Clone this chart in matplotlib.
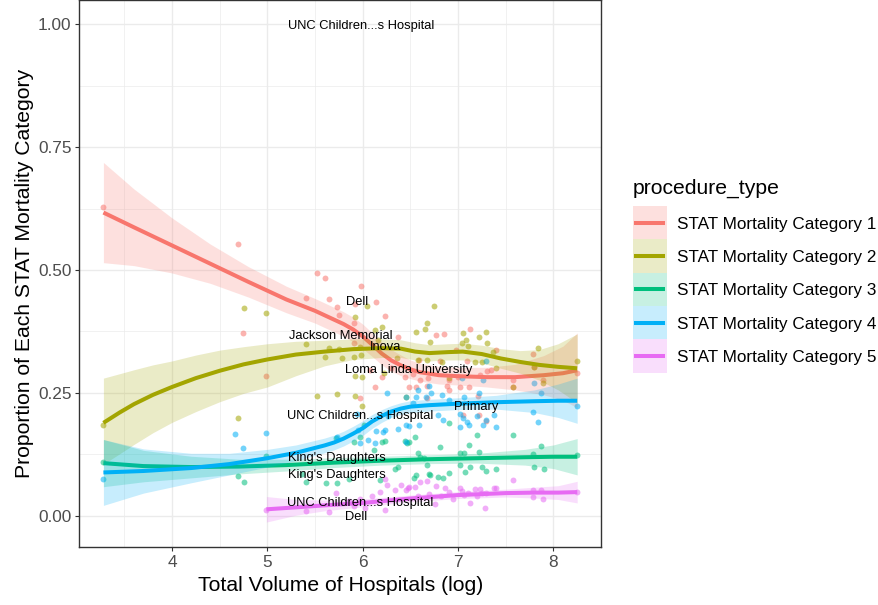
import matplotlib
matplotlib.use("Agg")
import matplotlib.pyplot as plt
from matplotlib.patches import Rectangle
from matplotlib.lines import Line2D

plt.rcParams['font.family'] = ['Liberation Sans', 'DejaVu Sans']

# ---- data -------------------------------------------------------------
categories = ["STAT Mortality Category 1", "STAT Mortality Category 2",
              "STAT Mortality Category 3", "STAT Mortality Category 4",
              "STAT Mortality Category 5"]
colors = ["#F8766D", "#A3A500", "#00BF7D", "#00B0F6", "#E76BF3"]

cat1_x = [3.28, 4.69, 4.74, 4.99, 5.40, 5.52, 5.60, 5.65, 5.73, 5.75, 5.91, 5.92, 5.98, 5.91, 5.97,
          6.08, 6.13, 6.14, 6.20, 6.23, 6.30, 6.37, 6.44, 6.49, 6.53, 6.56, 6.59, 6.60, 6.67, 6.67,
          6.69, 6.77, 6.81, 6.85, 6.88, 6.91, 6.91, 6.98, 7.00, 7.02, 7.05, 7.09, 7.12, 7.13, 7.21,
          7.22, 7.23, 7.29, 7.30, 7.35, 7.40, 7.58, 7.58, 7.79, 7.80, 7.89, 8.25]
cat1_y = [0.628, 0.554, 0.371, 0.284, 0.444, 0.493, 0.483, 0.442, 0.425, 0.408, 0.393, 0.431, 0.467, 0.352, 0.239,
          0.297, 0.261, 0.434, 0.283, 0.406, 0.300, 0.364, 0.282, 0.262, 0.288, 0.261, 0.316, 0.276, 0.264, 0.239,
          0.280, 0.368, 0.314, 0.369, 0.263, 0.276, 0.256, 0.337, 0.282, 0.261, 0.205, 0.314, 0.261, 0.379, 0.243,
          0.204, 0.287, 0.193, 0.295, 0.297, 0.337, 0.276, 0.262, 0.330, 0.303, 0.276, 0.290]

cat2_x = [3.28, 4.69, 4.75, 4.99, 5.40, 5.52, 5.60, 5.65, 5.73, 5.75, 5.78, 5.91, 5.92, 5.92, 5.92,
          5.97, 5.98, 5.99, 5.99, 6.05, 6.13, 6.16, 6.20, 6.22, 6.36, 6.45, 6.56, 6.58, 6.65, 6.67,
          6.67, 6.71, 6.75, 6.83, 6.91, 7.04, 7.05, 7.08, 7.10, 7.18, 7.22, 7.25, 7.29, 7.30, 7.37,
          7.40, 7.58, 7.80, 7.84, 7.89, 8.25]
cat2_y = [0.185, 0.199, 0.422, 0.412, 0.349, 0.244, 0.324, 0.341, 0.247, 0.339, 0.320, 0.324, 0.404, 0.284, 0.243,
          0.344, 0.328, 0.283, 0.224, 0.427, 0.378, 0.357, 0.385, 0.291, 0.320, 0.241, 0.373, 0.316, 0.379, 0.393,
          0.316, 0.353, 0.427, 0.313, 0.280, 0.351, 0.371, 0.357, 0.345, 0.313, 0.364, 0.313, 0.373, 0.352, 0.334,
          0.300, 0.262, 0.303, 0.341, 0.270, 0.315]

cat3_x = [3.28, 4.69, 4.75, 4.99, 5.36, 5.41, 5.62, 5.72, 5.73, 5.86, 5.91, 5.97, 6.01, 6.12, 6.18,
          6.20, 6.23, 6.34, 6.37, 6.44, 6.46, 6.49, 6.54, 6.55, 6.56, 6.58, 6.60, 6.64, 6.67, 6.70,
          6.71, 6.79, 6.81, 6.84, 6.91, 6.91, 7.02, 7.02, 7.06, 7.07, 7.11, 7.13, 7.20, 7.22, 7.25,
          7.29, 7.40, 7.58, 7.79, 7.80, 7.87, 7.90, 8.25]
cat3_y = [0.110, 0.081, 0.068, 0.122, 0.084, 0.068, 0.066, 0.159, 0.067, 0.074, 0.150, 0.160, 0.185, 0.134, 0.073,
          0.149, 0.153, 0.095, 0.100, 0.152, 0.147, 0.149, 0.076, 0.161, 0.083, 0.128, 0.119, 0.117, 0.103, 0.085,
          0.083, 0.078, 0.140, 0.076, 0.188, 0.086, 0.103, 0.127, 0.127, 0.088, 0.144, 0.100, 0.164, 0.130, 0.100,
          0.090, 0.096, 0.164, 0.125, 0.100, 0.141, 0.096, 0.123]

cat4_x = [3.28, 4.66, 4.74, 4.99, 5.73, 5.94, 5.95, 5.97, 6.06, 6.13, 6.14, 6.21, 6.23, 6.25, 6.27,
          6.37, 6.45, 6.45, 6.45, 6.49, 6.53, 6.56, 6.58, 6.59, 6.66, 6.70, 6.72, 6.79, 6.83, 6.84,
          6.91, 7.02, 7.02, 7.04, 7.05, 7.06, 7.09, 7.11, 7.20, 7.22, 7.26, 7.26, 7.29, 7.29, 7.38,
          7.40, 7.79, 7.80, 7.84, 7.87, 8.25]
cat4_y = [0.075, 0.166, 0.137, 0.169, 0.161, 0.208, 0.174, 0.147, 0.154, 0.147, 0.173, 0.171, 0.174, 0.249, 0.202,
          0.176, 0.151, 0.241, 0.185, 0.183, 0.229, 0.242, 0.256, 0.185, 0.241, 0.264, 0.249, 0.205, 0.246, 0.195,
          0.236, 0.208, 0.181, 0.280, 0.198, 0.242, 0.190, 0.185, 0.202, 0.249, 0.276, 0.185, 0.315, 0.195, 0.205,
          0.180, 0.212, 0.271, 0.191, 0.250, 0.223]

cat5_x = [4.99, 5.41, 5.65, 5.72, 5.86, 5.91, 5.97, 6.02, 6.10, 6.18, 6.23, 6.23, 6.25, 6.34, 6.40,
          6.45, 6.48, 6.49, 6.55, 6.58, 6.60, 6.67, 6.70, 6.76, 6.77, 6.82, 6.86, 6.91, 6.95, 7.02,
          7.04, 7.06, 7.10, 7.13, 7.18, 7.20, 7.23, 7.25, 7.28, 7.29, 7.38, 7.40, 7.58, 7.79, 7.79,
          7.87, 7.89, 8.25]
cat5_y = [0.012, 0.010, 0.008, 0.047, 0.030, 0.020, 0.035, 0.015, 0.040, 0.049, 0.074, 0.012, 0.063, 0.052, 0.062,
          0.052, 0.056, 0.058, 0.059, 0.040, 0.069, 0.071, 0.045, 0.024, 0.060, 0.040, 0.056, 0.048, 0.035, 0.056,
          0.050, 0.043, 0.046, 0.025, 0.054, 0.040, 0.054, 0.046, 0.015, 0.047, 0.056, 0.056, 0.073, 0.052, 0.039,
          0.052, 0.035, 0.049]

# loess fits with 95% confidence bands
fit1_x  = [3.28, 3.6, 4.0, 4.4, 4.8, 5.2, 5.5, 5.8, 5.9, 6.0, 6.1, 6.2, 6.3, 6.4, 6.5, 6.6, 6.8, 7.0, 7.3, 7.6, 7.9, 8.1, 8.25]
fit1_y  = [0.617, 0.587, 0.550, 0.513, 0.476, 0.440, 0.417, 0.390, 0.379, 0.365, 0.348, 0.330, 0.316, 0.306, 0.298, 0.292, 0.286, 0.284, 0.282, 0.282, 0.286, 0.290, 0.296]
fit1_lo = [0.515, 0.509, 0.494, 0.473, 0.445, 0.413, 0.392, 0.365, 0.354, 0.340, 0.324, 0.307, 0.294, 0.285, 0.279, 0.274, 0.268, 0.266, 0.262, 0.256, 0.246, 0.235, 0.220]
fit1_hi = [0.719, 0.665, 0.606, 0.553, 0.507, 0.467, 0.442, 0.415, 0.404, 0.390, 0.372, 0.353, 0.338, 0.327, 0.317, 0.310, 0.304, 0.302, 0.302, 0.308, 0.326, 0.345, 0.372]

fit2_x  = [3.28, 3.45, 3.6, 3.8, 4.0, 4.25, 4.5, 4.75, 5.0, 5.3, 5.6, 5.9, 6.2, 6.4, 6.55, 6.7, 6.9, 7.05, 7.25, 7.45, 7.65, 7.85, 8.05, 8.25]
fit2_y  = [0.189, 0.210, 0.227, 0.246, 0.262, 0.280, 0.295, 0.308, 0.318, 0.328, 0.334, 0.339, 0.341, 0.340, 0.334, 0.331, 0.333, 0.334, 0.329, 0.320, 0.313, 0.307, 0.303, 0.300]
fit2_lo = [0.105, 0.126, 0.145, 0.169, 0.190, 0.212, 0.232, 0.249, 0.262, 0.285, 0.305, 0.318, 0.322, 0.322, 0.317, 0.315, 0.317, 0.317, 0.311, 0.300, 0.290, 0.276, 0.256, 0.230]
fit2_hi = [0.280, 0.289, 0.297, 0.307, 0.315, 0.327, 0.337, 0.344, 0.350, 0.355, 0.357, 0.360, 0.360, 0.358, 0.352, 0.348, 0.350, 0.351, 0.347, 0.340, 0.336, 0.338, 0.350, 0.370]

fit3_x  = [3.28, 3.7, 4.2, 4.7, 5.2, 5.7, 6.2, 6.7, 7.2, 7.7, 8.0, 8.25]
fit3_y  = [0.107, 0.101, 0.099, 0.100, 0.103, 0.108, 0.112, 0.115, 0.117, 0.119, 0.120, 0.120]
fit3_lo = [0.059, 0.069, 0.077, 0.085, 0.091, 0.098, 0.103, 0.106, 0.107, 0.103, 0.096, 0.083]
fit3_hi = [0.155, 0.133, 0.121, 0.115, 0.115, 0.118, 0.121, 0.124, 0.127, 0.135, 0.144, 0.157]

fit4_x  = [3.28, 3.7, 4.2, 4.6, 5.0, 5.3, 5.6, 5.7, 5.8, 5.9, 6.0, 6.1, 6.2, 6.3, 6.4, 6.5, 6.7, 7.0, 7.4, 7.8, 8.05, 8.25]
fit4_y  = [0.088, 0.091, 0.097, 0.105, 0.117, 0.128, 0.143, 0.149, 0.157, 0.167, 0.178, 0.192, 0.203, 0.212, 0.218, 0.222, 0.225, 0.228, 0.231, 0.233, 0.234, 0.234]
fit4_lo = [0.021, 0.046, 0.067, 0.083, 0.099, 0.112, 0.128, 0.134, 0.142, 0.152, 0.163, 0.178, 0.190, 0.200, 0.206, 0.210, 0.213, 0.216, 0.217, 0.210, 0.200, 0.188]
fit4_hi = [0.155, 0.136, 0.127, 0.127, 0.135, 0.144, 0.158, 0.164, 0.172, 0.182, 0.193, 0.206, 0.216, 0.224, 0.230, 0.234, 0.237, 0.240, 0.245, 0.256, 0.268, 0.280]

fit5_x  = [4.99, 5.3, 5.6, 6.0, 6.5, 7.0, 7.5, 7.8, 8.05, 8.25]
fit5_y  = [0.013, 0.017, 0.021, 0.026, 0.035, 0.042, 0.046, 0.047, 0.047, 0.048]
fit5_lo = [-0.013, 0.001, 0.010, 0.018, 0.028, 0.035, 0.038, 0.036, 0.033, 0.026]
fit5_hi = [0.039, 0.033, 0.032, 0.034, 0.042, 0.049, 0.054, 0.058, 0.061, 0.070]

# hospital name annotations
label_text = ["UNC Children...s Hospital", "Dell", "Jackson Memorial", "Inova",
              "Loma Linda University", "Primary", "UNC Children...s Hospital",
              "King's Daughters", "King's Daughters", "UNC Children...s Hospital", "Dell"]
label_x = [5.98, 5.94, 5.77, 6.24, 6.48, 7.19, 5.97, 5.73, 5.73, 5.97, 5.93]
label_y = [1.000, 0.439, 0.368, 0.347, 0.300, 0.225, 0.205, 0.120, 0.086, 0.029, 0.000]

points = [(cat1_x, cat1_y), (cat2_x, cat2_y), (cat3_x, cat3_y), (cat4_x, cat4_y), (cat5_x, cat5_y)]
fits = [(fit1_x, fit1_y, fit1_lo, fit1_hi), (fit2_x, fit2_y, fit2_lo, fit2_hi),
        (fit3_x, fit3_y, fit3_lo, fit3_hi), (fit4_x, fit4_y, fit4_lo, fit4_hi),
        (fit5_x, fit5_y, fit5_lo, fit5_hi)]

# ---- figure -------------------------------------------------------------
W, H = 879, 605
RIBBON_ALPHA = 0.22
LINE_W = 2.9
TITLE_SIZE = 15.2
fig = plt.figure(figsize=(W / 100, H / 100), dpi=100)
ax = fig.add_axes([79.3 / W, 1 - 547 / H, (601 - 79.3) / W, (547 - 0.3) / H])

ax.set_xlim(3.027, 8.496)
ax.set_ylim(-0.0637, 1.049)

ax.set_xticks([4, 5, 6, 7, 8])
ax.set_xticks([3.5, 4.5, 5.5, 6.5, 7.5, 8.5], minor=True)
ax.set_yticks([0.0, 0.25, 0.5, 0.75, 1.0])
ax.set_yticklabels(["0.00", "0.25", "0.50", "0.75", "1.00"])
ax.set_yticks([0.125, 0.375, 0.625, 0.875], minor=True)
ax.grid(True, which="major", color="#EBEBEB", lw=1.0, zorder=0)
ax.grid(True, which="minor", color="#EBEBEB", lw=0.5, zorder=0)
ax.set_axisbelow(True)

for sp in ax.spines.values():
    sp.set_color("#333333")
    sp.set_linewidth(1.0)

ax.tick_params(which="major", length=3.2, width=0.8, color="#333333",
               labelcolor="#4D4D4D", labelsize=12.4, pad=2.5)
ax.tick_params(which="minor", length=0)

# scatter of hospital proportions
for (px, py), c in zip(points, colors):
    ax.scatter(px, py, s=18, color=c, alpha=0.55, linewidths=0, zorder=2)

# smoothers: ribbon then line, group by group
for i, ((fx, fy, flo, fhi), c) in enumerate(zip(fits, colors)):
    ax.fill_between(fx, flo, fhi, color=c, alpha=RIBBON_ALPHA, linewidth=0, zorder=3 + 2 * i)
    ax.plot(fx, fy, color=c, lw=LINE_W, solid_capstyle="butt", zorder=4 + 2 * i)

for t, x, y in zip(label_text, label_x, label_y):
    ax.text(x, y, t, ha="center", va="center_baseline", fontsize=9.3, color="black", zorder=20)

ax.set_xlabel("Total Volume of Hospitals (log)", fontsize=TITLE_SIZE, color="black")
ax.set_ylabel("Proportion of Each STAT Mortality Category", fontsize=TITLE_SIZE, color="black")
ax.xaxis.set_label_coords(0.5, -(576.0 - 547) / 546.7)
ax.yaxis.set_label_coords(-(79.3 - 34.5) / 521.7, 0.5)

# legend: title, keys (ribbon fill + line) and labels in figure pixels
def fx_(px):
    return px / W

def fy_(py):
    return 1 - py / H

fig.text(fx_(633), fy_(188), "procedure_type", fontsize=TITLE_SIZE, va="center", ha="left")
key_top, key_h, key_w, key_left = 206.0, 33.3, 34.0, 633.0
for i, (name, c) in enumerate(zip(categories, colors)):
    top = key_top + i * key_h
    fig.patches.append(Rectangle((fx_(key_left), fy_(top + key_h)), key_w / W, key_h / H,
                                 transform=fig.transFigure, facecolor=c, alpha=RIBBON_ALPHA,
                                 edgecolor="none"))
    yc = fy_(top + key_h / 2)
    fig.lines.append(Line2D([fx_(key_left + 3.5), fx_(key_left + key_w - 3.5)], [yc, yc],
                            transform=fig.transFigure, color=c, lw=LINE_W))
    fig.text(fx_(677), yc, name, fontsize=12.3, va="center_baseline", ha="left")

fig.savefig("out.png", dpi=100)
